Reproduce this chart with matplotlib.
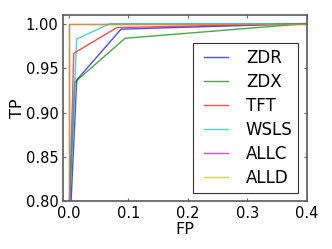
import matplotlib
matplotlib.use("Agg")
import matplotlib.pyplot as plt
from matplotlib.legend_handler import HandlerLine2D
from matplotlib.lines import Line2D

labels = ["ZDR", "ZDX", "TFT", "WSLS", "ALLC", "ALLD"]
colors = ["b", "g", "r", "c", "m", "y"]

fp_zdr = [0.004, 0.0135, 0.088, 0.4]
tp_zdr = [0.80, 0.9365, 0.9937, 1.0]
fp_zdx = [0.0018, 0.0102, 0.0947, 0.4]
tp_zdx = [0.80, 0.934, 0.9835, 1.0]
fp_tft = [0.0015, 0.0085, 0.081, 0.4]
tp_tft = [0.80, 0.9666, 0.9955, 1.0]
fp_wsls = [0.001, 0.0135, 0.0695, 0.4]
tp_wsls = [0.80, 0.9827, 1.0, 1.0]
fp_allc = [0.0, 0.0, 0.4]
tp_allc = [0.80, 1.0, 1.0]
fp_alld = [0.0, 0.0, 0.4]
tp_alld = [0.80, 1.0, 1.0]

xs = [fp_zdr, fp_zdx, fp_tft, fp_wsls, fp_allc, fp_alld]
ys = [tp_zdr, tp_zdx, tp_tft, tp_wsls, tp_allc, tp_alld]

xticks = [0.0, 0.1, 0.2, 0.3, 0.4]
yticks = [0.80, 0.85, 0.90, 0.95, 1.00]

plt.rcParams['font.family'] = ['DejaVu Sans']
fig = plt.figure(figsize=(3.32, 2.49), dpi=100)
fig.patch.set_facecolor('white')
ax = fig.add_axes([0.189, 0.191, 0.735, 0.750])
for x, y, c, l in zip(xs, ys, colors, labels):
    ax.plot(x, y, color=c, alpha=0.7, lw=1.0, label=l)

ax.set_xlim(-0.01, 0.4)
ax.set_ylim(0.8, 1.01)
ax.set_xticks(xticks)
ax.set_xticklabels(["%.1f" % t for t in xticks])
ax.set_yticks(yticks)
ax.set_yticklabels(["%.2f" % t for t in yticks])
ax.tick_params(direction='in', top=True, right=True, length=2.5, width=0.8,
               labelsize=10.5, pad=3, color='0.4')
for s in ax.spines.values():
    s.set_color('0.35')
    s.set_linewidth(1.2)
ax.set_xlabel("FP", fontsize=11.5, labelpad=1)
ax.set_ylabel("TP", fontsize=11.5, labelpad=0.5)
leg = ax.legend(loc='lower right', fontsize=12, fancybox=False, framealpha=1,
                edgecolor='0.2', handlelength=1.75, handletextpad=1.1,
                labelspacing=0.36, borderpad=0.35, borderaxespad=0.5,
                handler_map={Line2D: HandlerLine2D(xpad=0.35)})
leg.get_frame().set_linewidth(0.8)
fig.savefig("out.png", dpi=100, facecolor='white')
